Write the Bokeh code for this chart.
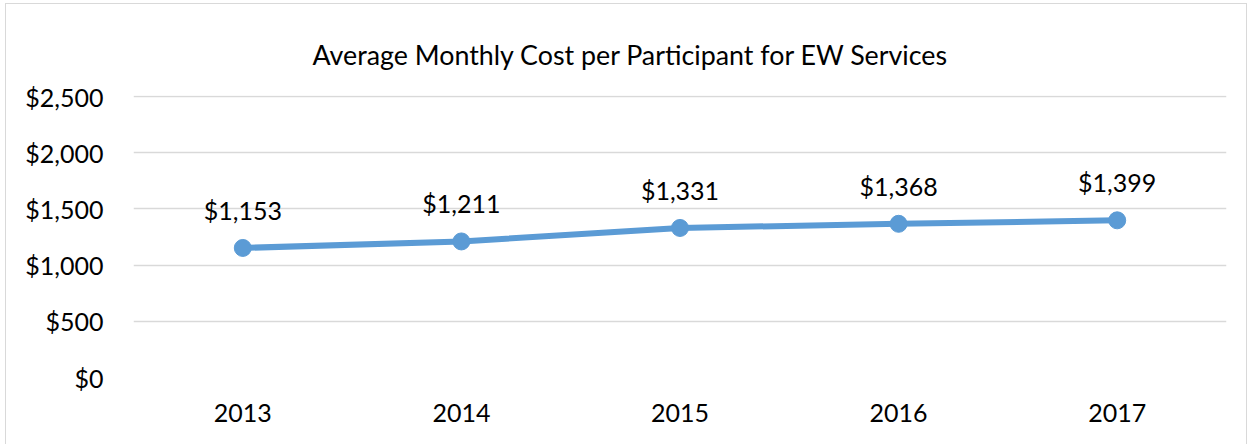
from bokeh.plotting import figure
from bokeh.models import ColumnDataSource, FixedTicker, NumeralTickFormatter, InlineStyleSheet
from bokeh.core.properties import value
from bokeh.embed import file_html
from bokeh.resources import INLINE

years = ["2013", "2014", "2015", "2016", "2017"]
costs = [1153, 1211, 1331, 1368, 1399]
cost_labels = ["$1,153", "$1,211", "$1,331", "$1,368", "$1,399"]
y_ticks = [0, 500, 1000, 1500, 2000, 2500]

FONT = "Lato"
LINE = "#5B9BD5"

src = ColumnDataSource(data=dict(x=years, y=costs, lab=cost_labels))

p = figure(x_range=years, y_range=(0, 2510), width=1240, height=442,
           output_backend="svg", toolbar_location=None,
           title="Average Monthly Cost per Participant for EW Services",
           min_border_left=127, min_border_right=20, min_border_top=91, min_border_bottom=69)

p.stylesheets = [InlineStyleSheet(css=":host { outline: 1.5px solid #D9D9D9; margin-left: 6px; margin-top: 4px; }")]
p.outline_line_color = None
p.background_fill_color = "white"
p.border_fill_color = "white"

p.title.align = "left"
p.title.vertical_align = "top"
p.title.text_font = FONT
p.title.text_font_size = "26.8px"
p.title.text_font_style = "normal"
p.title.text_color = "#000000"
p.title.standoff = 45
p.title.offset = 179

p.line("x", "y", source=src, line_color=LINE, line_width=6)
p.scatter("x", "y", source=src, size=17, fill_color=LINE, line_color=LINE)
p.text("x", "y", text="lab", source=src, text_font=value(FONT), text_font_size="25px",
       text_align="center", text_baseline="alphabetic", y_offset=-38, text_color="#000000")

p.yaxis.ticker = FixedTicker(ticks=y_ticks)
p.yaxis.formatter = NumeralTickFormatter(format="$0,0")
for ax in (p.xaxis[0], p.yaxis[0]):
    ax.axis_line_color = None
    ax.major_tick_line_color = None
    ax.minor_tick_line_color = None
    ax.major_label_text_font = FONT
    ax.major_label_text_font_size = "25px"
    ax.major_label_text_color = "#000000"
p.yaxis.major_label_standoff = 24
p.xaxis.major_label_standoff = 20

p.xgrid.grid_line_color = None
p.ygrid.grid_line_color = "#D9D9D9"
p.ygrid.grid_line_width = 1.5

open("out.html", "w").write(file_html(p, INLINE))
